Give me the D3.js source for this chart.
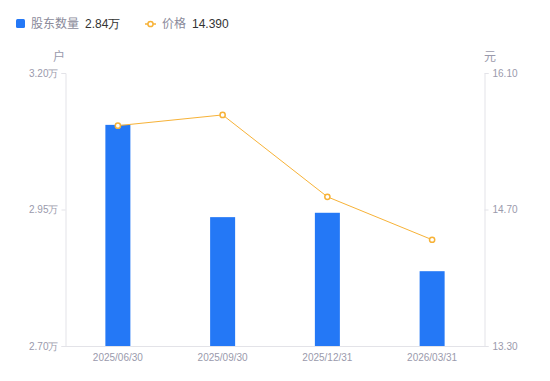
<!DOCTYPE html>
<html><head><meta charset="utf-8">
<script src="https://cdn.jsdelivr.net/npm/d3@7/dist/d3.min.js"></script>
<style>body{margin:0;background:#fff;}svg{display:block;font-family:"Noto Sans CJK SC","Noto Sans",sans-serif;}</style>
</head><body>
<svg id="c" width="550" height="381"></svg>
<script>
const categories = ["2025/06/30","2025/09/30","2025/12/31","2026/03/31"];
const holders = [3.105, 2.936, 2.944, 2.837]; // 万户
const prices = [15.56, 15.67, 14.83, 14.39];
const leftTicks = [2.70, 2.95, 3.20];
const rightTicks = [13.30, 14.70, 16.10];

const svg = d3.select("#c");
const L = 65.5, R = 484.5, T = 73, B = 346;
const x = d3.scaleBand().domain(categories).range([L, R]);
const yL = d3.scaleLinear().domain([2.70, 3.20]).range([B, T]);
const yR = d3.scaleLinear().domain([13.30, 16.10]).range([B, T]);
const axisColor = "#e3e3e8", labelColor = "#9a9aac";
const barColor = "#2478f6", lineColor = "#f7b237";

// left axis
const gl = svg.append("g").attr("transform", `translate(${L},0)`)
  .call(d3.axisLeft(yL).tickValues(leftTicks).tickSize(4).tickPadding(3).tickFormat(d => d3.format(".2f")(d) + "万"));
const gr = svg.append("g").attr("transform", `translate(${R},0)`)
  .call(d3.axisRight(yR).tickValues(rightTicks).tickSize(4).tickPadding(4).tickFormat(d3.format(".2f")));
[gl, gr].forEach(g => {
  g.select(".domain").attr("stroke", axisColor);
  g.selectAll(".tick line").attr("stroke", axisColor);
  g.selectAll(".tick text").attr("fill", labelColor).attr("font-size", 10).attr("font-family", "Liberation Sans, Arial, sans-serif");
});
const gx = svg.append("g").attr("transform", `translate(0,${B})`)
  .call(d3.axisBottom(x).tickSize(0).tickPadding(8));
gx.select(".domain").attr("stroke", axisColor);
gx.selectAll(".tick text").attr("fill", labelColor).attr("font-size", 10).attr("font-family", "Liberation Sans, Arial, sans-serif");

// axis titles
svg.append("text").attr("x", 59).attr("y", 61).attr("text-anchor", "middle").attr("font-size", 12).attr("fill", labelColor).text("户");
svg.append("text").attr("x", 490).attr("y", 61).attr("text-anchor", "middle").attr("font-size", 12).attr("fill", labelColor).text("元");

// bars
const bw = 25;
svg.append("g").selectAll("rect").data(holders).join("rect")
  .attr("x", (d, i) => x(categories[i]) + x.bandwidth() / 2 - bw / 2)
  .attr("width", bw)
  .attr("y", d => yL(d))
  .attr("height", d => B - yL(d))
  .attr("fill", barColor);

// line
const line = d3.line().x((d, i) => x(categories[i]) + x.bandwidth() / 2).y(d => yR(d));
svg.append("path").datum(prices).attr("d", line).attr("fill", "none").attr("stroke", lineColor).attr("stroke-width", 1);
svg.append("g").selectAll("circle").data(prices).join("circle")
  .attr("cx", (d, i) => x(categories[i]) + x.bandwidth() / 2)
  .attr("cy", d => yR(d)).attr("r", 2.6)
  .attr("fill", "#fff").attr("stroke", lineColor).attr("stroke-width", 1.5);

// legend
const lg = svg.append("g");
lg.append("rect").attr("x", 16).attr("y", 19).attr("width", 9).attr("height", 9).attr("rx", 1.5).attr("fill", barColor);
lg.append("text").attr("x", 31).attr("y", 28).attr("font-size", 12).attr("fill", "#8a8a9a").text("股东数量");
lg.append("text").attr("x", 85).attr("y", 28).attr("font-size", 12).attr("fill", "#333").attr("font-family", "Liberation Sans, Arial, sans-serif").text(d3.format(".2f")(holders[3]) + "万");
lg.append("line").attr("x1", 145).attr("x2", 156).attr("y1", 24).attr("y2", 24).attr("stroke", lineColor).attr("stroke-width", 1.5);
lg.append("circle").attr("cx", 150.5).attr("cy", 24).attr("r", 2.6).attr("fill", "#fff").attr("stroke", lineColor).attr("stroke-width", 1.5);
lg.append("text").attr("x", 162).attr("y", 28).attr("font-size", 12).attr("fill", "#8a8a9a").text("价格");
lg.append("text").attr("x", 192).attr("y", 28).attr("font-size", 12).attr("fill", "#333").attr("font-family", "Liberation Sans, Arial, sans-serif").text(d3.format(".3f")(prices[3]));
</script>
</body></html>
